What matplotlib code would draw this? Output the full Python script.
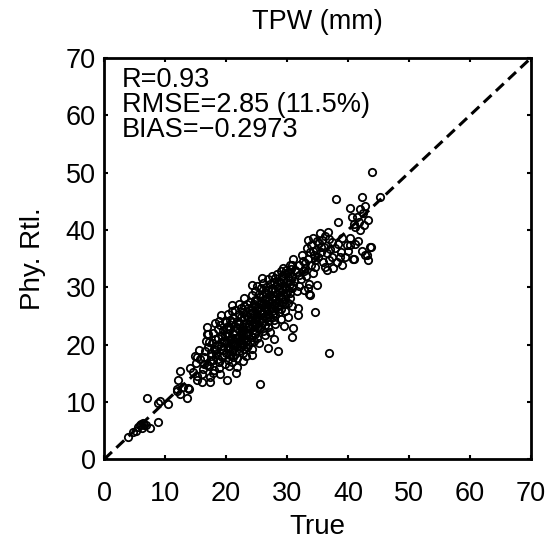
import matplotlib.pyplot as plt
import numpy as np

plt.rcParams['font.family'] = ['Liberation Sans', 'DejaVu Sans']

# low end of the scatter
pts_low = [(3.9, 3.8), (4.8, 4.7), (5.3, 5.0), (5.9, 5.9), (6.2, 5.5), (6.4, 6.3),
           (6.0, 6.2), (6.8, 5.9), (7.5, 5.4), (5.5, 5.6), (8.9, 6.5), (6.6, 6.0),
           (7.0, 10.7), (8.9, 9.9), (9.2, 10.2), (10.5, 9.6), (12.0, 11.9), (12.4, 11.4),
           (13.6, 10.6), (14.0, 12.2), (12.1, 13.8), (13.0, 12.6), (13.8, 12.4), (11.9, 12.3)]

# edge points and outliers
pts_edge = [(25.6, 13.1), (36.9, 18.5), (20.1, 13.8), (34.6, 25.7), (28.5, 18.8), (26.9, 19.4),
            (30.8, 21.3), (31.8, 25.1), (31.8, 26.3), (33.6, 28.8), (34.9, 30.4), (21.8, 16.1),
            (24.3, 18.1), (17.4, 13.4), (16.1, 13.4), (12.5, 15.4), (15.2, 17.8), (16.9, 21.8),
            (18.9, 24.1), (21.0, 26.9), (24.3, 30.4), (25.9, 31.6), (30.5, 33.9), (31.0, 22.9),
            (33.8, 28.6), (29.5, 23.2), (27.8, 21.0), (22.8, 17.2), (23.5, 19.6), (30.2, 24.8)]

# dense core, x 14-20
pts_a = [(14.1, 16.0), (14.6, 15.2), (15.0, 16.8), (15.3, 14.5), (15.8, 17.5), (16.2, 15.8),
         (16.5, 18.9), (16.8, 16.4), (17.1, 19.5), (17.4, 17.2), (17.7, 20.3), (18.0, 15.6),
         (18.3, 18.4), (18.6, 21.2), (18.9, 17.0), (19.2, 19.8), (19.5, 22.5), (19.8, 16.6),
         (14.9, 18.0), (15.6, 19.1), (16.0, 14.8), (16.7, 20.7), (17.2, 16.2), (17.9, 22.0),
         (18.4, 19.0), (19.0, 23.4), (19.6, 18.2), (15.2, 13.9), (16.3, 17.9), (17.0, 21.8),
         (17.5, 18.6), (18.1, 20.9), (18.8, 15.9), (19.4, 21.5), (19.9, 24.1), (16.9, 23.0),
         (17.8, 17.4), (18.5, 19.9), (19.1, 25.2), (19.7, 20.6), (16.4, 16.7), (17.3, 14.3),
         (18.2, 23.8), (18.7, 22.7), (19.3, 17.8)]

# dense core, x 20-25
pts_b = [(20.0, 18.5), (20.0, 20.2), (20.0, 22.1), (20.0, 24.0),
         (20.3, 17.3), (20.3, 19.4), (20.3, 21.5), (20.3, 23.2), (20.3, 25.4),
         (20.6, 18.1), (20.6, 20.8), (20.6, 22.7), (20.6, 19.6),
         (20.9, 16.9), (20.9, 21.0), (20.9, 23.9), (20.9, 18.8), (20.9, 25.9),
         (21.2, 19.2), (21.2, 21.8), (21.2, 20.3), (21.2, 24.6), (21.2, 17.8),
         (21.5, 18.4), (21.5, 22.4), (21.5, 20.0), (21.5, 26.1), (21.5, 23.3),
         (21.8, 19.8), (21.8, 21.2), (21.8, 24.2), (21.8, 17.6), (21.8, 22.9),
         (22.1, 20.6), (22.1, 18.9), (22.1, 23.6), (22.1, 25.3), (22.1, 21.4), (22.1, 27.0),
         (22.4, 19.5), (22.4, 22.0), (22.4, 24.8), (22.4, 20.9), (22.4, 26.4),
         (22.7, 21.7), (22.7, 23.1), (22.7, 18.6), (22.7, 25.7), (22.7, 20.1),
         (23.0, 22.5), (23.0, 19.3), (23.0, 24.4), (23.0, 26.8), (23.0, 21.0), (23.0, 28.1),
         (23.3, 20.7), (23.3, 23.8), (23.3, 22.2), (23.3, 25.1), (23.3, 18.0),
         (23.6, 21.9), (23.6, 24.9), (23.6, 26.3), (23.6, 19.9), (23.6, 23.0),
         (23.9, 22.8), (23.9, 20.4), (23.9, 25.6), (23.9, 27.5), (23.9, 24.1),
         (24.2, 23.5), (24.2, 21.3), (24.2, 26.0), (24.2, 19.2), (24.2, 28.6), (24.2, 24.7),
         (24.5, 22.1), (24.5, 25.2), (24.5, 27.1), (24.5, 20.6), (24.5, 23.9),
         (24.8, 24.5), (24.8, 26.7), (24.8, 21.8), (24.8, 29.3), (24.8, 23.2)]

# dense core, x 25-31
pts_c = [(25.1, 23.6), (25.1, 25.9), (25.1, 27.8), (25.1, 21.1), (25.1, 30.2), (25.1, 24.8),
         (25.4, 22.7), (25.4, 26.5), (25.4, 28.9), (25.4, 24.2), (25.4, 20.3),
         (25.7, 25.4), (25.7, 27.3), (25.7, 23.1), (25.7, 29.8), (25.7, 26.1),
         (26.0, 24.0), (26.0, 26.9), (26.0, 28.4), (26.0, 22.3), (26.0, 30.8), (26.0, 25.6),
         (26.3, 27.7), (26.3, 25.0), (26.3, 23.5), (26.3, 29.2), (26.3, 21.6),
         (26.6, 26.2), (26.6, 28.1), (26.6, 24.6), (26.6, 30.1), (26.6, 27.0),
         (26.9, 25.3), (26.9, 29.6), (26.9, 23.0), (26.9, 27.6), (26.9, 31.4),
         (27.2, 26.8), (27.2, 28.7), (27.2, 24.9), (27.2, 22.2), (27.2, 30.5),
         (27.5, 27.9), (27.5, 25.8), (27.5, 29.9), (27.5, 26.4), (27.5, 32.0),
         (27.8, 28.5), (27.8, 24.3), (27.8, 30.9), (27.8, 26.9),
         (28.1, 27.2), (28.1, 29.4), (28.1, 25.1), (28.1, 31.6), (28.1, 23.6),
         (28.4, 28.8), (28.4, 26.6), (28.4, 30.3), (28.4, 32.4),
         (28.7, 27.5), (28.7, 29.9), (28.7, 25.7), (28.7, 31.1),
         (29.0, 28.3), (29.0, 30.7), (29.0, 26.2), (29.0, 32.8), (29.0, 24.4),
         (29.3, 29.6), (29.3, 27.4), (29.3, 31.5),
         (29.6, 30.2), (29.6, 28.0), (29.6, 32.3), (29.6, 25.9),
         (29.9, 28.9), (29.9, 31.0), (29.9, 33.1),
         (30.2, 29.5), (30.2, 27.3), (30.2, 31.8),
         (30.5, 30.6), (30.5, 32.5), (30.5, 28.2),
         (30.8, 29.8), (30.8, 31.9), (30.8, 26.8)]

# extra fill along the band, x 17-39
pts_f = [(17.6, 18.0), (18.0, 19.2), (18.6, 17.5), (19.1, 20.4), (19.5, 19.0), (19.9, 21.6),
         (20.2, 22.8), (20.7, 24.3), (21.0, 19.9), (21.4, 21.1), (21.9, 23.7), (22.3, 20.2),
         (22.6, 22.4), (22.9, 24.9), (23.2, 21.6), (23.5, 27.0), (23.8, 23.3), (24.1, 25.3),
         (24.4, 22.6), (24.7, 27.8), (25.0, 26.4), (25.3, 23.0), (25.6, 28.3), (25.9, 24.6),
         (26.2, 26.6), (26.5, 29.0), (26.8, 24.1), (27.1, 27.3), (27.4, 29.5), (27.7, 25.4),
         (28.0, 28.0), (28.3, 30.8), (28.6, 26.9), (28.9, 29.2), (29.2, 31.9), (29.5, 27.0),
         (29.8, 29.9), (30.1, 32.6), (30.4, 29.0), (30.7, 33.2), (31.0, 30.4), (31.3, 33.0),
         (31.6, 29.3), (32.0, 32.1), (32.4, 35.6), (32.7, 32.8), (33.0, 34.2), (33.4, 29.9),
         (33.9, 33.9), (34.2, 36.3), (34.9, 38.0), (35.5, 37.1), (36.3, 38.9), (36.8, 34.8),
         (37.1, 36.6), (38.6, 35.2), (17.2, 20.4), (17.9, 15.0), (19.0, 14.9), (20.5, 16.3),
         (21.6, 15.1)]

# upper group, x 29-44
pts_d = [(33.3, 36.8), (33.4, 38.2), (34.3, 38.6), (35.4, 39.4), (36.7, 39.6), (37.4, 37.9),
         (39.0, 38.6), (39.8, 37.3), (40.3, 37.3), (41.6, 38.0), (43.6, 37.0), (43.1, 35.6),
         (39.5, 35.3), (40.8, 34.9), (35.1, 35.3), (36.6, 36.0), (37.4, 35.3), (38.2, 34.4),
         (39.0, 33.9), (36.2, 33.5), (34.6, 33.5), (30.8, 33.9), (29.3, 33.3), (32.9, 33.3),
         (34.6, 34.7), (41.0, 34.9), (42.8, 35.6), (43.3, 34.7), (43.8, 37.0), (36.6, 33.0),
         (37.5, 33.3), (34.3, 32.5), (33.8, 36.2), (34.0, 37.4), (34.8, 36.5), (35.2, 37.8),
         (35.8, 38.3), (36.1, 37.0), (35.6, 36.1), (36.9, 38.5), (37.8, 36.8), (38.4, 37.6),
         (34.4, 35.7), (33.5, 35.0), (32.6, 34.6), (32.0, 33.8), (31.5, 32.6), (32.3, 31.4),
         (31.9, 30.2), (33.1, 31.9), (33.6, 30.6), (32.8, 29.5), (31.2, 31.1), (30.9, 35.0),
         (35.9, 34.4), (38.8, 36.1), (40.4, 38.6), (41.2, 37.6), (42.3, 36.4), (40.0, 36.3)]

# top end, x 38-45
pts_e = [(43.9, 50.1), (42.3, 45.7), (38.0, 45.4), (45.2, 45.7), (40.3, 43.8), (42.0, 43.6),
         (42.8, 44.2), (38.4, 41.4), (40.7, 42.2), (41.5, 42.2), (41.1, 40.5), (43.3, 41.7),
         (41.8, 41.3), (42.5, 42.9), (40.9, 41.0), (41.9, 40.0), (42.6, 40.8)]

ticks = [0, 10, 20, 30, 40, 50, 60, 70]
stats = ['R=0.93', 'RMSE=2.85 (11.5%)', 'BIAS=\u22120.2973']

pts = np.array(pts_low + pts_edge + pts_a + pts_b + pts_c + pts_f + pts_d + pts_e)

fig = plt.figure(figsize=(5.48, 5.52), dpi=100)
ax = fig.add_axes([0.19, 0.168, 0.779, 0.727])

ax.plot(pts[:, 0], pts[:, 1], 'o', mfc='none', mec='k', ms=5.3, mew=1.3)
ax.plot([0, 70], [0, 70], 'k--', lw=2.2, dashes=(3.5, 2))

ax.set_xlim(0, 70)
ax.set_ylim(0, 70)
ax.set_xticks(ticks)
ax.set_yticks(ticks)
ax.tick_params(direction='in', top=True, right=True, length=3, width=1.5, labelsize=19.5)
ax.tick_params(axis='x', pad=16)
ax.tick_params(axis='y', pad=6)
for s in ax.spines.values():
    s.set_linewidth(2)

#stats block, one line each
for i, t in enumerate(stats):
    ax.text(2.9, 64.9 - i * 4.36, t, fontsize=19.5, va='baseline', ha='left')

ax.set_title('TPW (mm)', fontsize=19.5, pad=21)
ax.set_xlabel('True', fontsize=20, labelpad=5)
ax.set_ylabel('Phy. Rtl.', fontsize=20, labelpad=14)

fig.savefig('out.png', dpi=100)
